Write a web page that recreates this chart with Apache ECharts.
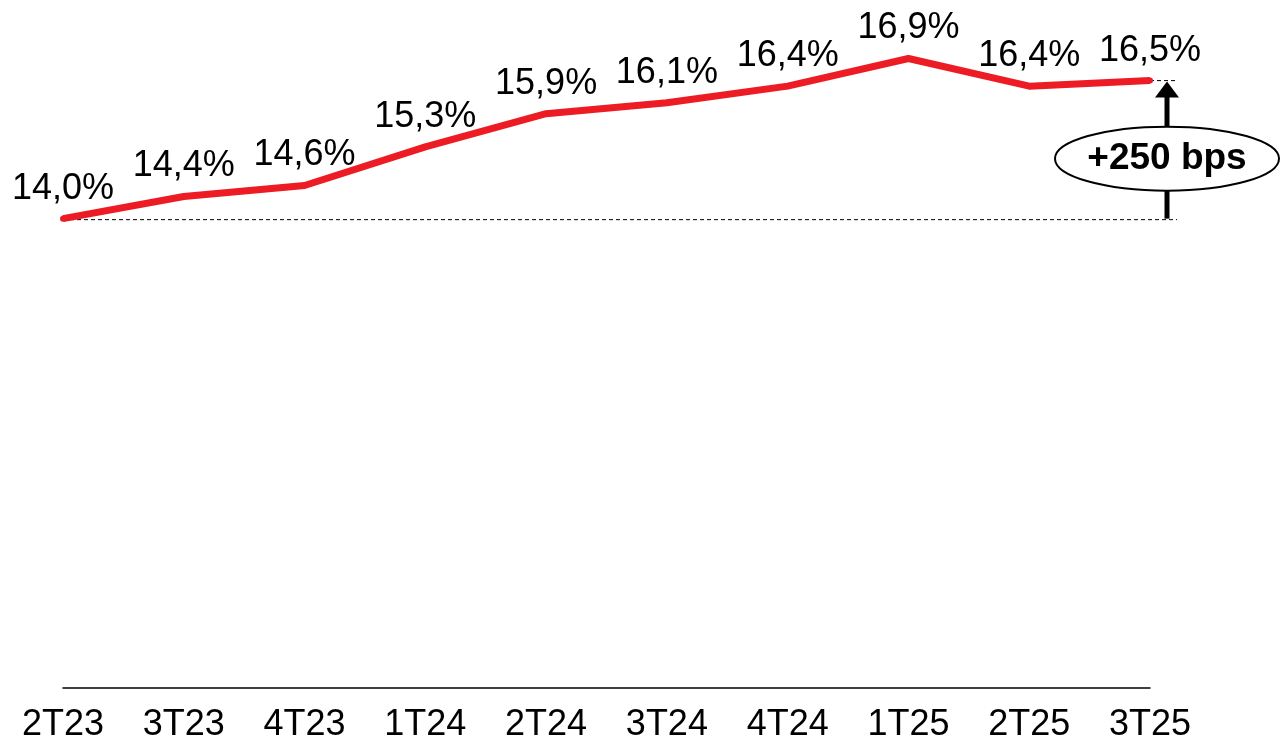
<!DOCTYPE html>
<html>
<head>
<meta charset="utf-8">
<script src="https://cdn.jsdelivr.net/npm/echarts@6/dist/echarts.min.js"></script>
<style>
html, body { margin: 0; padding: 0; background: #fff; }
#main { width: 1281px; height: 750px; }
</style>
</head>
<body>
<div id="main"></div>
<script>
// trimestres
const quarters = ['2T23', '3T23', '4T23', '1T24', '2T24', '3T24', '4T24', '1T25', '2T25', '3T25']
// margem (%)
const margin = [14.0, 14.4, 14.6, 15.3, 15.9, 16.1, 16.4, 16.9, 16.4, 16.5]
const deltaText = '+250 bps'

const font = 'Liberation Sans, Arial, sans-serif'
const myChart = echarts.init(document.getElementById('main'))

const option = {
  animation: false,
  grid: { left: 63, right: 131, top: 53, bottom: 62 },
  xAxis: {
    type: 'category',
    data: quarters,
    boundaryGap: false,
    axisLine: { lineStyle: { color: '#000', width: 1.5 } },
    axisTick: { show: false },
    axisLabel: { color: '#000', fontSize: 36, fontFamily: font, margin: 19 }
  },
  yAxis: {
    type: 'value',
    min: 5.5,
    max: 17,
    show: false,
    splitLine: { show: false }
  },
  series: [{
    type: 'line',
    data: margin,
    symbol: 'circle',
    symbolSize: 6,
    clip: false,
    itemStyle: { color: '#ED1C24', borderWidth: 0 },
    lineStyle: { color: '#ED1C24', width: 7 },
    label: {
      show: true,
      position: 'top',
      distance: 9,
      color: '#000',
      fontSize: 36,
      fontFamily: font,
      formatter: p => p.value.toFixed(1).replace('.', ',') + '%'
    }
  }]
}
myChart.setOption(option)

// anotação: linhas tracejadas, seta e elipse
const first = myChart.convertToPixel({ gridIndex: 0 }, [0, margin[0]])
const last = myChart.convertToPixel({ gridIndex: 0 }, [quarters.length - 1, margin[margin.length - 1]])
const ax = last[0] + 17
const ellCy = (first[1] + last[1]) / 2 + 9
myChart.setOption({
  graphic: [
    {
      type: 'line',
      shape: { x1: first[0], y1: first[1] + 1, x2: ax + 10, y2: first[1] + 1 },
      style: { stroke: '#000', lineWidth: 1, lineDash: [4, 3] }
    },
    {
      type: 'line',
      shape: { x1: last[0], y1: last[1], x2: ax + 10, y2: last[1] },
      style: { stroke: '#000', lineWidth: 1, lineDash: [4, 3] }
    },
    {
      type: 'line',
      shape: { x1: ax, y1: first[1], x2: ax, y2: last[1] + 14 },
      style: { stroke: '#000', lineWidth: 5 }
    },
    {
      type: 'polygon',
      shape: { points: [[ax, last[1] + 1], [ax - 12, last[1] + 17], [ax + 12, last[1] + 17]] },
      style: { fill: '#000' }
    },
    {
      type: 'ellipse',
      shape: { cx: ax, cy: ellCy, rx: 112, ry: 32 },
      style: { fill: '#fff', stroke: '#000', lineWidth: 2 }
    },
    {
      type: 'text',
      x: ax,
      y: ellCy,
      style: {
        text: deltaText,
        fill: '#000',
        font: 'bold 37px Liberation Sans, Arial, sans-serif',
        align: 'center',
        verticalAlign: 'middle'
      }
    }
  ]
})
</script>
</body>
</html>
